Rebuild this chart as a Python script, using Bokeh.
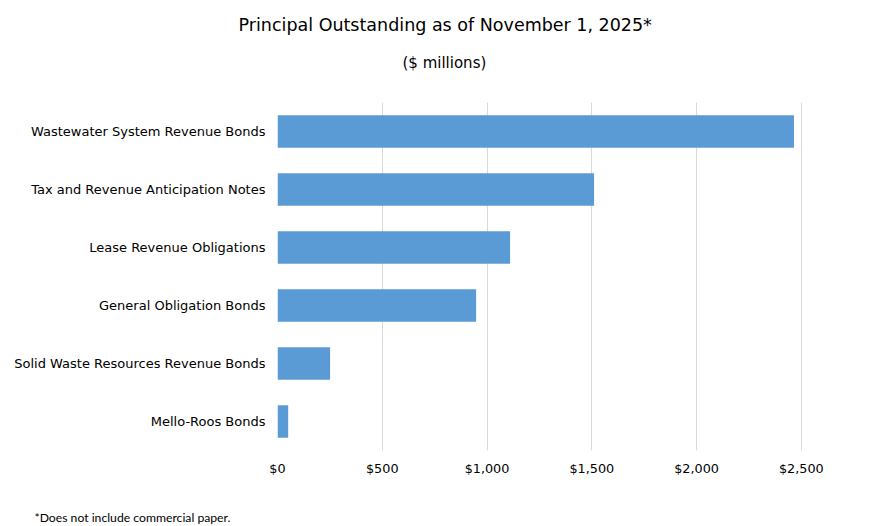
from bokeh.plotting import figure
from bokeh.models import ColumnDataSource, FactorRange, Range1d, FixedTicker, NumeralTickFormatter, Title
from bokeh.embed import file_html
from bokeh.resources import INLINE

# values in $ millions
categories = [
    "Wastewater System Revenue Bonds",
    "Tax and Revenue Anticipation Notes",
    "Lease Revenue Obligations",
    "General Obligation Bonds",
    "Solid Waste Resources Revenue Bonds",
    "Mello-Roos Bonds",
]
principal = [2465, 1511, 1110, 948, 251, 51]
x_ticks = [0, 500, 1000, 1500, 2000, 2500]

source = ColumnDataSource(data=dict(cat=categories, val=principal))

p = figure(
    width=870,
    height=526,
    y_range=FactorRange(factors=categories[::-1], range_padding=0),
    x_range=Range1d(0, 2520),
    output_backend="svg",
    toolbar_location=None,
    tools="",
    min_border_left=277,
    min_border_right=65,
    min_border_top=102,
    min_border_bottom=76,
)

p.hbar(y="cat", right="val", left=0, height=0.56, source=source,
       fill_color="#5B9BD5", line_color=None)

p.outline_line_color = None
p.ygrid.grid_line_color = None
p.xgrid.grid_line_color = "#D9D9D9"
p.xgrid.ticker = FixedTicker(ticks=x_ticks)

p.xaxis.ticker = FixedTicker(ticks=x_ticks)
p.xaxis.formatter = NumeralTickFormatter(format="$0,0")
for ax in (p.xaxis, p.yaxis):
    ax.axis_line_color = None
    ax.major_tick_line_color = None
    ax.minor_tick_line_color = None
    ax.major_tick_out = 0
    ax.minor_tick_out = 0
    ax.major_label_text_font = "DejaVu Sans"
    ax.major_label_text_font_size = "12.8px"
    ax.major_label_text_color = "#000000"
p.yaxis.major_label_text_font_size = "13px"
p.xaxis.major_label_standoff = 10
p.yaxis.major_label_standoff = 12

# titles (subtitle added first so it sits nearer the bars) and footnote
p.add_layout(Title(text="($ millions)", align="left", offset=125, standoff=0,
                   padding=dict(top=0, right=0, bottom=31, left=0),
                   text_font="DejaVu Sans", text_font_size="15px",
                   text_font_style="normal", text_color="#000000"), "above")
p.add_layout(Title(text="Principal Outstanding as of November 1, 2025*", align="left",
                   offset=-39, standoff=0,
                   padding=dict(top=0, right=0, bottom=17, left=0),
                   text_font="DejaVu Sans", text_font_size="17.5px",
                   text_font_style="normal", text_color="#000000"), "above")
p.add_layout(Title(text="*Does not include commercial paper.", align="left",
                   offset=-243, standoff=0,
                   padding=dict(top=29, right=0, bottom=0, left=0),
                   text_font="Lato", text_font_size="12.2px",
                   text_font_style="normal", text_color="#000000"), "below")

open("out.html", "w").write(file_html(p, INLINE))
